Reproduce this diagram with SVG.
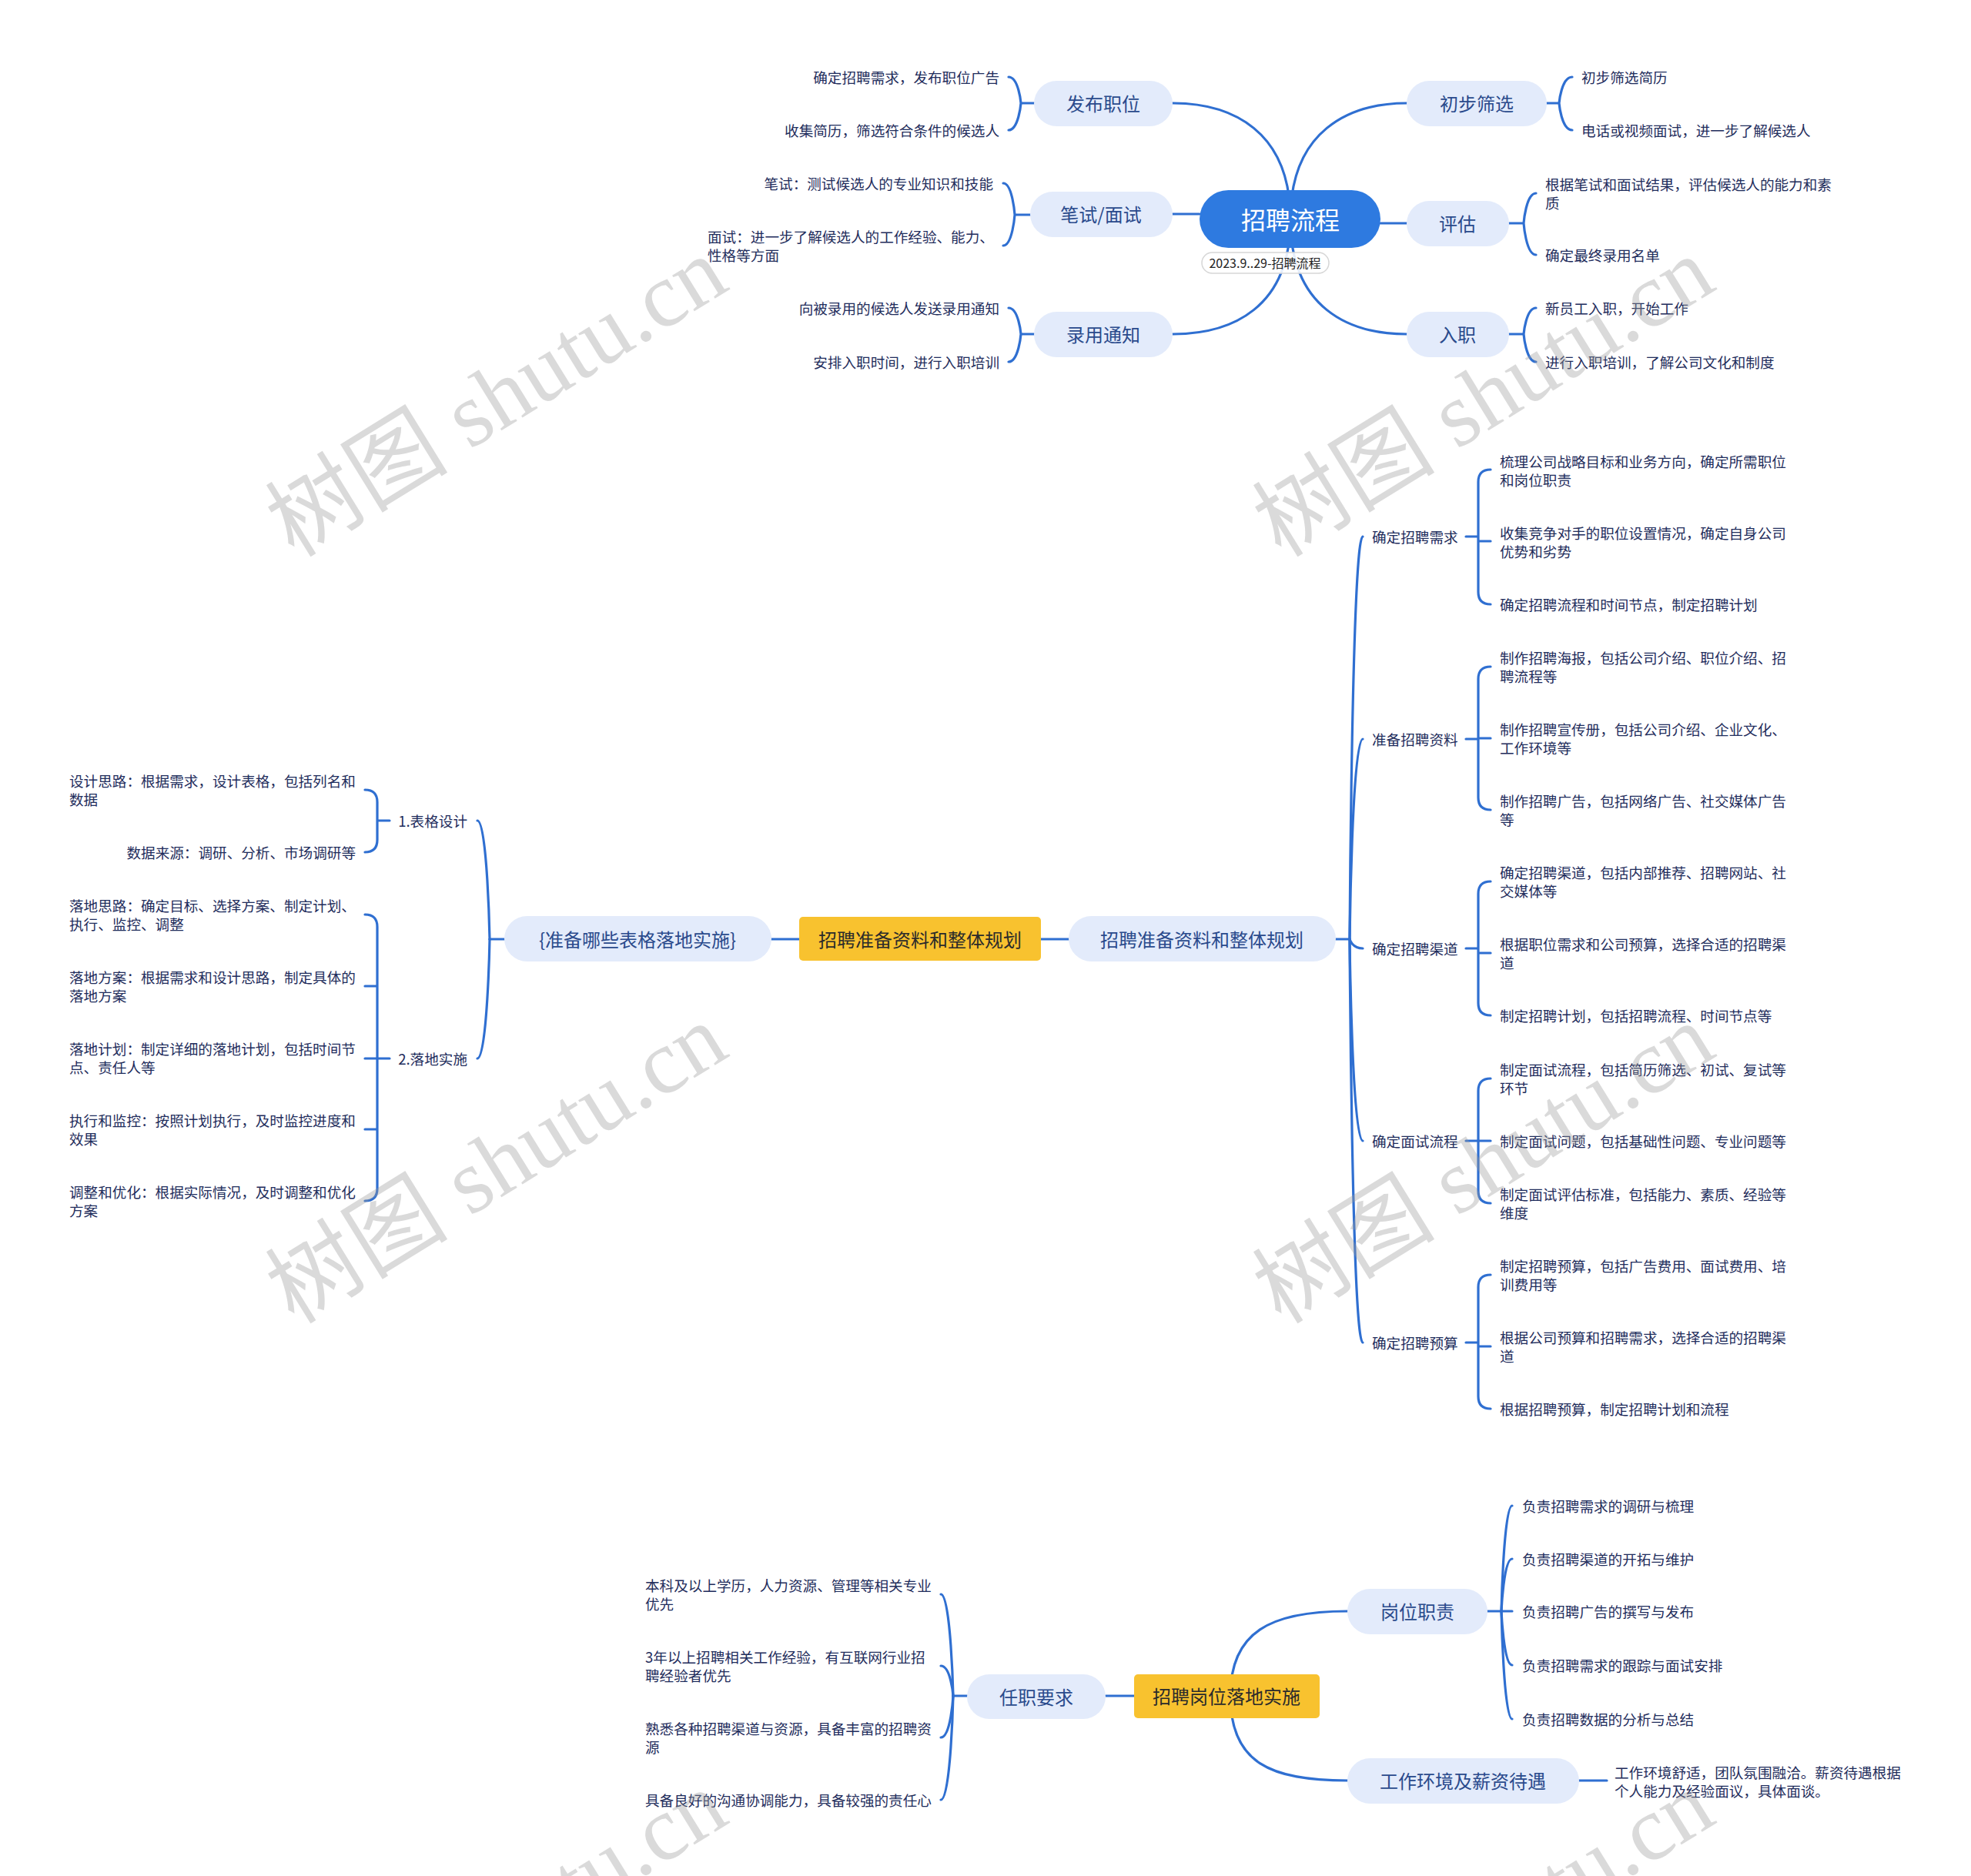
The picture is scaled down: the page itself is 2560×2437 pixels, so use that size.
<svg xmlns="http://www.w3.org/2000/svg" width="2560" height="2437" viewBox="0 0 2560 2437">
<style>
text{font-family:"Noto Sans CJK SC","Noto Sans",sans-serif;dominant-baseline:central}
.ln{fill:none;stroke:#2f6fd1;stroke-width:3.2;stroke-linecap:round}
.nb{fill:#e3ebfb}
.yb{fill:#f8c22f}
.nt{font-size:24px;fill:#2a4a8c;text-anchor:middle}
.yt{font-size:24px;fill:#2b2b2b;text-anchor:middle}
.lf{font-size:18.6px;fill:#1f2d5c}
.e{text-anchor:end}
.wm{font-family:"Liberation Serif","Noto Sans CJK SC",serif;font-size:119px;fill:#9a9a9a;opacity:0.36;text-anchor:middle}
</style>
<rect width="2560" height="2437" fill="#ffffff"/>

<g id="connectors">
  <path class="ln" d="M1676,285 C1676,170 1600,134 1523,134"/>
  <path class="ln" d="M1676,285 C1676,170 1752,134 1827,134"/>
  <path class="ln" d="M1676,285 C1676,400 1600,434 1523,434"/>
  <path class="ln" d="M1676,285 C1676,400 1752,434 1827,434"/>
  <path class="ln" d="M1558,278 L1523,278"/>
  <path class="ln" d="M1793,290 L1827,290"/>
  <path class="ln" d="M1343,134 L1326,134 M1326,134 C1326,134 1323,100 1310,100 M1326,134 C1326,134 1323,169 1310,169"/>
  <path class="ln" d="M1338,279 L1318,279 M1318,279 C1318,279 1315,238 1303,238 M1318,279 C1318,279 1315,319 1303,319"/>
  <path class="ln" d="M1343,434 L1326,434 M1326,434 C1326,434 1323,400 1310,400 M1326,434 C1326,434 1323,470 1310,470"/>
  <path class="ln" d="M2009,134 L2025,134 M2025,134 C2025,134 2028,100 2042,100 M2025,134 C2025,134 2028,169 2042,169"/>
  <path class="ln" d="M1960,290 L1979,290 M1979,290 C1979,290 1982,251 1995,251 M1979,290 C1979,290 1982,331 1995,331"/>
  <path class="ln" d="M1960,434 L1979,434 M1979,434 C1979,434 1982,400 1995,400 M1979,434 C1979,434 1982,470 1995,470"/>

  <path class="ln" d="M1352,1220 L1388,1220"/>
  <path class="ln" d="M1002,1220 L1038,1220"/>
  <path class="ln" d="M1735,1220 L1753,1220"/>
  <path class="ln" d="M1753,1220 C1753,1220 1756,697 1770,697"/>
  <path class="ln" d="M1753,1220 C1753,1220 1756,960 1770,960"/>
  <path class="ln" d="M1753,1220 C1753,1220 1756,1232 1770,1232"/>
  <path class="ln" d="M1753,1220 C1753,1220 1756,1482 1770,1482"/>
  <path class="ln" d="M1753,1220 C1753,1220 1756,1744 1770,1744"/>
  <path class="ln" d="M1904,697 L1920,697 M1936,610 Q1920,610 1920,626 L1920,769 Q1920,785 1936,785 M1920,703 L1936,703"/>
  <path class="ln" d="M1904,960 L1920,960 M1936,866 Q1920,866 1920,882 L1920,1036 Q1920,1052 1936,1052 M1920,959 L1936,959"/>
  <path class="ln" d="M1904,1232 L1920,1232 M1936,1145 Q1920,1145 1920,1161 L1920,1303 Q1920,1319 1936,1319 M1920,1238 L1936,1238"/>
  <path class="ln" d="M1904,1482 L1920,1482 M1936,1401 Q1920,1401 1920,1417 L1920,1547 Q1920,1563 1936,1563 M1920,1482 L1936,1482"/>
  <path class="ln" d="M1904,1744 L1920,1744 M1936,1656 Q1920,1656 1920,1672 L1920,1814 Q1920,1830 1936,1830 M1920,1749 L1936,1749"/>
  <path class="ln" d="M655,1220 L636,1220"/>
  <path class="ln" d="M636,1220 C636,1220 633,1066 620,1066"/>
  <path class="ln" d="M636,1220 C636,1220 633,1375 620,1375"/>
  <path class="ln" d="M506,1066 L490,1066 M474,1026 Q490,1026 490,1042 L490,1091 Q490,1107 474,1107"/>
  <path class="ln" d="M506,1375 L474,1375 M474,1188 Q490,1188 490,1204 L490,1544 Q490,1560 474,1560 M490,1281 L474,1281 M490,1467 L474,1467"/>

  <path class="ln" d="M1436,2203 L1473,2203"/>
  <path class="ln" d="M1598,2203 C1598,2120 1650,2093 1750,2093"/>
  <path class="ln" d="M1598,2203 C1598,2290 1650,2313 1750,2313"/>
  <path class="ln" d="M1256,2203 L1238,2203"/>
  <path class="ln" d="M1238,2203 C1238,2203 1235,2071 1222,2071"/>
  <path class="ln" d="M1238,2203 C1238,2203 1235,2164 1222,2164"/>
  <path class="ln" d="M1238,2203 C1238,2203 1235,2257 1222,2257"/>
  <path class="ln" d="M1238,2203 C1238,2203 1235,2338 1222,2338"/>
  <path class="ln" d="M1932,2093 L1950,2093"/>
  <path class="ln" d="M1950,2093 C1950,2093 1953,1956 1964,1956"/>
  <path class="ln" d="M1950,2093 C1950,2093 1953,2025 1964,2025"/>
  <path class="ln" d="M1950,2093 L1964,2093"/>
  <path class="ln" d="M1950,2093 C1950,2093 1953,2163 1964,2163"/>
  <path class="ln" d="M1950,2093 C1950,2093 1953,2233 1964,2233"/>
  <path class="ln" d="M2051,2313 L2087,2313"/>
</g>

<g id="root">
  <rect x="1558" y="247" width="235" height="75" rx="37.5" fill="#2e7ae0"/>
  <text x="1676" y="284" style="font-size:32px;fill:#ffffff;text-anchor:middle">招聘流程</text>
</g>
<g id="root-label">
  <rect x="1561" y="328" width="165" height="27" rx="13.5" fill="#ffffff" fill-opacity="0.88" stroke="#d6d6d6" stroke-width="1.5"/>
  <text x="1643" y="341" style="font-size:16px;fill:#222222;text-anchor:middle">2023.9..29-招聘流程</text>
</g>
<g id="n-fabu">
  <rect class="nb" x="1343" y="105" width="180" height="59" rx="29.5"/>
  <text class="nt" x="1433" y="133">发布职位</text>
</g>
<g id="n-bishi">
  <rect class="nb" x="1338" y="249" width="185" height="59" rx="29.5"/>
  <text class="nt" x="1430" y="277">笔试/面试</text>
</g>
<g id="n-luyong">
  <rect class="nb" x="1343" y="405" width="180" height="59" rx="29.5"/>
  <text class="nt" x="1433" y="433">录用通知</text>
</g>
<g id="n-chubu">
  <rect class="nb" x="1827" y="105" width="182" height="59" rx="29.5"/>
  <text class="nt" x="1918" y="133">初步筛选</text>
</g>
<g id="n-pinggu">
  <rect class="nb" x="1827" y="261" width="133" height="59" rx="29.5"/>
  <text class="nt" x="1893" y="289">评估</text>
</g>
<g id="n-ruzhi">
  <rect class="nb" x="1827" y="405" width="133" height="59" rx="29.5"/>
  <text class="nt" x="1893" y="433">入职</text>
</g>
<g id="leaves-top">
  <text class="lf e" x="1298" y="99">确定招聘需求，发布职位广告</text>
  <text class="lf e" x="1298" y="168">收集简历，筛选符合条件的候选人</text>
  <text class="lf e" x="1290" y="237">笔试：测试候选人的专业知识和技能</text>
  <text class="lf"><tspan x="919" y="306">面试：进一步了解候选人的工作经验、能力、</tspan><tspan x="919" y="330">性格等方面</tspan></text>
  <text class="lf e" x="1298" y="399">向被录用的候选人发送录用通知</text>
  <text class="lf e" x="1298" y="469">安排入职时间，进行入职培训</text>
  <text class="lf" x="2054" y="99">初步筛选简历</text>
  <text class="lf" x="2054" y="168">电话或视频面试，进一步了解候选人</text>
  <text class="lf"><tspan x="2007" y="238">根据笔试和面试结果，评估候选人的能力和素</tspan><tspan x="2007" y="262">质</tspan></text>
  <text class="lf" x="2007" y="330">确定最终录用名单</text>
  <text class="lf" x="2007" y="399">新员工入职，开始工作</text>
  <text class="lf" x="2007" y="469">进行入职培训，了解公司文化和制度</text>
</g>

<g id="n-mid-center">
  <rect class="yb" x="1038" y="1191" width="314" height="57" rx="5"/>
  <text class="yt" x="1195" y="1219">招聘准备资料和整体规划</text>
</g>
<g id="n-mid-right">
  <rect class="nb" x="1388" y="1190" width="347" height="59" rx="29.5"/>
  <text class="nt" x="1561" y="1219">招聘准备资料和整体规划</text>
</g>
<g id="n-mid-left">
  <rect class="nb" x="655" y="1190" width="347" height="59" rx="29.5"/>
  <text class="nt" x="828" y="1219">{准备哪些表格落地实施}</text>
</g>
<g id="mid-right-branches">
  <text class="lf" x="1782" y="696">确定招聘需求</text>
  <text class="lf" x="1782" y="959">准备招聘资料</text>
  <text class="lf" x="1782" y="1231">确定招聘渠道</text>
  <text class="lf" x="1782" y="1481">确定面试流程</text>
  <text class="lf" x="1782" y="1743">确定招聘预算</text>
</g>
<g id="mid-right-leaves">
  <text class="lf"><tspan x="1948" y="598">梳理公司战略目标和业务方向，确定所需职位</tspan><tspan x="1948" y="622">和岗位职责</tspan></text>
  <text class="lf"><tspan x="1948" y="691">收集竞争对手的职位设置情况，确定自身公司</tspan><tspan x="1948" y="715">优势和劣势</tspan></text>
  <text class="lf" x="1948" y="784">确定招聘流程和时间节点，制定招聘计划</text>
  <text class="lf"><tspan x="1948" y="853">制作招聘海报，包括公司介绍、职位介绍、招</tspan><tspan x="1948" y="877">聘流程等</tspan></text>
  <text class="lf"><tspan x="1948" y="946">制作招聘宣传册，包括公司介绍、企业文化、</tspan><tspan x="1948" y="970">工作环境等</tspan></text>
  <text class="lf"><tspan x="1948" y="1039">制作招聘广告，包括网络广告、社交媒体广告</tspan><tspan x="1948" y="1063">等</tspan></text>
  <text class="lf"><tspan x="1948" y="1132">确定招聘渠道，包括内部推荐、招聘网站、社</tspan><tspan x="1948" y="1156">交媒体等</tspan></text>
  <text class="lf"><tspan x="1948" y="1225">根据职位需求和公司预算，选择合适的招聘渠</tspan><tspan x="1948" y="1249">道</tspan></text>
  <text class="lf" x="1948" y="1318">制定招聘计划，包括招聘流程、时间节点等</text>
  <text class="lf"><tspan x="1948" y="1388">制定面试流程，包括简历筛选、初试、复试等</tspan><tspan x="1948" y="1412">环节</tspan></text>
  <text class="lf" x="1948" y="1481">制定面试问题，包括基础性问题、专业问题等</text>
  <text class="lf"><tspan x="1948" y="1550">制定面试评估标准，包括能力、素质、经验等</tspan><tspan x="1948" y="1574">维度</tspan></text>
  <text class="lf"><tspan x="1948" y="1643">制定招聘预算，包括广告费用、面试费用、培</tspan><tspan x="1948" y="1667">训费用等</tspan></text>
  <text class="lf"><tspan x="1948" y="1736">根据公司预算和招聘需求，选择合适的招聘渠</tspan><tspan x="1948" y="1760">道</tspan></text>
  <text class="lf" x="1948" y="1829">根据招聘预算，制定招聘计划和流程</text>
</g>
<g id="mid-left-branches">
  <text class="lf e" x="607" y="1065">1.表格设计</text>
  <text class="lf e" x="607" y="1374">2.落地实施</text>
</g>
<g id="mid-left-leaves">
  <text class="lf"><tspan x="90" y="1013">设计思路：根据需求，设计表格，包括列名和</tspan><tspan x="90" y="1037">数据</tspan></text>
  <text class="lf e" x="462" y="1106">数据来源：调研、分析、市场调研等</text>
  <text class="lf"><tspan x="90" y="1175">落地思路：确定目标、选择方案、制定计划、</tspan><tspan x="90" y="1199">执行、监控、调整</tspan></text>
  <text class="lf"><tspan x="90" y="1268">落地方案：根据需求和设计思路，制定具体的</tspan><tspan x="90" y="1292">落地方案</tspan></text>
  <text class="lf"><tspan x="90" y="1361">落地计划：制定详细的落地计划，包括时间节</tspan><tspan x="90" y="1385">点、责任人等</tspan></text>
  <text class="lf"><tspan x="90" y="1454">执行和监控：按照计划执行，及时监控进度和</tspan><tspan x="90" y="1478">效果</tspan></text>
  <text class="lf"><tspan x="90" y="1547">调整和优化：根据实际情况，及时调整和优化</tspan><tspan x="90" y="1571">方案</tspan></text>
</g>

<g id="n-bottom-center">
  <rect class="yb" x="1473" y="2175" width="241" height="57" rx="5"/>
  <text class="yt" x="1593" y="2202">招聘岗位落地实施</text>
</g>
<g id="n-renzhi">
  <rect class="nb" x="1256" y="2175" width="180" height="58" rx="29"/>
  <text class="nt" x="1346" y="2203">任职要求</text>
</g>
<g id="n-gangwei">
  <rect class="nb" x="1750" y="2064" width="182" height="59" rx="29.5"/>
  <text class="nt" x="1841" y="2092">岗位职责</text>
</g>
<g id="n-huanjing">
  <rect class="nb" x="1750" y="2284" width="301" height="59" rx="29.5"/>
  <text class="nt" x="1900" y="2312">工作环境及薪资待遇</text>
</g>
<g id="leaves-bottom">
  <text class="lf"><tspan x="838" y="2058">本科及以上学历，人力资源、管理等相关专业</tspan><tspan x="838" y="2082">优先</tspan></text>
  <text class="lf"><tspan x="838" y="2151">3年以上招聘相关工作经验，有互联网行业招</tspan><tspan x="838" y="2175">聘经验者优先</tspan></text>
  <text class="lf"><tspan x="838" y="2244">熟悉各种招聘渠道与资源，具备丰富的招聘资</tspan><tspan x="838" y="2268">源</tspan></text>
  <text class="lf" x="838" y="2337">具备良好的沟通协调能力，具备较强的责任心</text>
  <text class="lf" x="1977" y="1955">负责招聘需求的调研与梳理</text>
  <text class="lf" x="1977" y="2024">负责招聘渠道的开拓与维护</text>
  <text class="lf" x="1977" y="2092">负责招聘广告的撰写与发布</text>
  <text class="lf" x="1977" y="2162">负责招聘需求的跟踪与面试安排</text>
  <text class="lf" x="1977" y="2232">负责招聘数据的分析与总结</text>
  <text class="lf"><tspan x="2097" y="2301">工作环境舒适，团队氛围融洽。薪资待遇根据</tspan><tspan x="2097" y="2325">个人能力及经验面议，具体面谈。</tspan></text>
</g>

<g id="watermark">
  <text class="wm" transform="translate(645,516) rotate(-31.7)">树图 shutu.cn</text>
  <text class="wm" transform="translate(1927,516) rotate(-31.7)">树图 shutu.cn</text>
  <text class="wm" transform="translate(645,1512) rotate(-31.7)">树图 shutu.cn</text>
  <text class="wm" transform="translate(1927,1512) rotate(-31.7)">树图 shutu.cn</text>
  <text class="wm" transform="translate(645,2508) rotate(-31.7)">树图 shutu.cn</text>
  <text class="wm" transform="translate(1927,2508) rotate(-31.7)">树图 shutu.cn</text>
</g>
</svg>
